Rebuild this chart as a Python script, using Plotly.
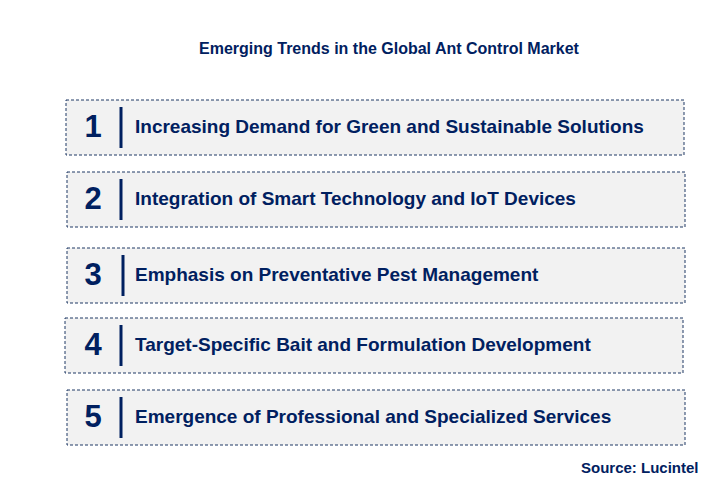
import plotly.graph_objects as go

numbers = ["1", "2", "3", "4", "5"]
trends = [
    "Increasing Demand for Green and Sustainable Solutions",
    "Integration of Smart Technology and IoT Devices",
    "Emphasis on Preventative Pest Management",
    "Target-Specific Bait and Formulation Development",
    "Emergence of Professional and Specialized Services",
]
# box extents in pixels (x0, x1, y0, y1)
boxes = [(66, 684, 100, 155), (67, 685, 172, 227), (67, 685, 248, 303),
         (65, 683, 318, 373), (67, 685, 390, 445)]
bar_x = [121, 121, 123, 121, 121]

navy = "#002060"
font = "Liberation Sans, Arial"
fig = go.Figure()
shapes = []
for (x0, x1, y0, y1), bx in zip(boxes, bar_x):
    shapes.append(dict(type="rect", x0=x0, x1=x1, y0=y0, y1=y1, xref="x", yref="y",
                       fillcolor="#f2f2f2", line=dict(color="#1f3864", width=1, dash="3px,2px"), layer="below"))
    shapes.append(dict(type="line", x0=bx, x1=bx, y0=y0 + 7, y1=y1 - 7, xref="x", yref="y",
                       line=dict(color=navy, width=3)))

fig.add_trace(go.Scatter(
    x=[93] * 5, y=[(b[2] + b[3]) / 2 + 2 for b in boxes], mode="text",
    text=["<b>%s</b>" % n for n in numbers],
    textfont=dict(family=font, size=31, color=navy), hoverinfo="skip"))
fig.add_trace(go.Scatter(
    x=[135] * 5, y=[(b[2] + b[3]) / 2 + 1 for b in boxes], mode="text",
    text=["<b>%s</b>" % t for t in trends], textposition="middle right",
    textfont=dict(family=font, size=19, color=navy), hoverinfo="skip"))

annotations = [
    dict(x=389, y=48, xref="x", yref="y", text="<b>Emerging Trends in the Global Ant Control Market</b>",
         showarrow=False, font=dict(family=font, size=16, color=navy)),
    dict(x=701, y=467, xref="x", yref="y", text="<b>Source: Lucintel</b>", xanchor="right",
         showarrow=False, font=dict(family=font, size=15, color=navy)),
]

fig.update_layout(
    width=712, height=481, margin=dict(l=0, r=0, t=0, b=0),
    paper_bgcolor="white", plot_bgcolor="white", showlegend=False,
    xaxis=dict(range=[8, 720], visible=False, fixedrange=True),
    yaxis=dict(range=[489, 8], visible=False, fixedrange=True),
    shapes=shapes, annotations=annotations,
)
fig.write_html("out.html")
